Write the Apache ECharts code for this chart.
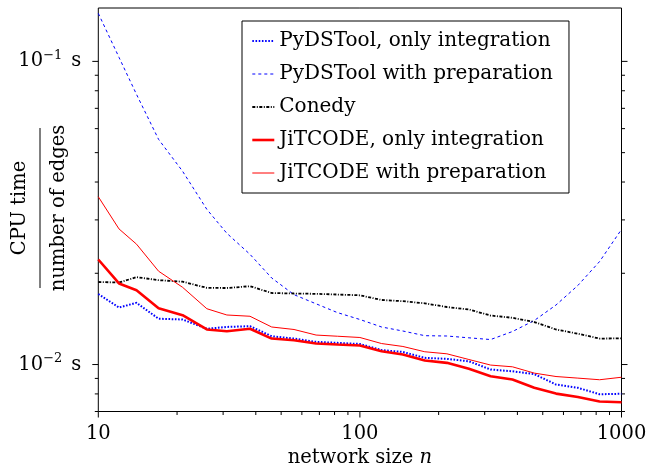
<!DOCTYPE html>
<html>
<head>
<meta charset="utf-8">
<script src="https://cdn.jsdelivr.net/npm/echarts@6/dist/echarts.min.js"></script>
<style>html,body{margin:0;padding:0;background:#fff;}#c{width:657px;height:468px;}</style>
</head>
<body>
<div id="c"></div>
<script>
// network sizes n
const networkSize = [10,12,14,17,21,26,31,38,46,56,68,82,100,121,146,177,215,261,316,383,464,562,681,825,1000];
// CPU time / number of edges (s)
const pydsOnly = [0.01709,0.01542,0.01598,0.01416,0.01408,0.01312,0.01331,0.01338,0.0124,0.01218,0.01188,0.01179,0.01169,0.01116,0.0110,0.01052,0.01044,0.01025,0.00963,0.0095,0.0093,0.00859,0.00838,0.00798,0.00801];
const pydsPrep = [0.144,0.1031,0.0778,0.0553,0.0434,0.0325,0.0271,0.0231,0.0193,0.0170,0.01586,0.01484,0.01408,0.0133,0.0129,0.01245,0.01242,0.01225,0.01209,0.01285,0.01397,0.01572,0.01823,0.02188,0.02791];
const conedy = [0.01872,0.01865,0.01942,0.01898,0.01876,0.01791,0.01788,0.01813,0.01722,0.01715,0.01711,0.01702,0.01692,0.01633,0.01618,0.01592,0.01548,0.01519,0.01451,0.01426,0.01381,0.01305,0.01264,0.01218,0.0122];
const jitOnly = [0.02221,0.01851,0.01759,0.01534,0.01455,0.01305,0.01288,0.01312,0.01218,0.01203,0.01173,0.01164,0.01155,0.01106,0.01079,0.01031,0.01013,0.00968,0.00915,0.00892,0.00838,0.00802,0.00782,0.00755,0.00751];
const jitPrep = [0.03577,0.02801,0.02495,0.02032,0.01798,0.01528,0.01457,0.01443,0.0133,0.01305,0.01251,0.0124,0.01228,0.01173,0.01147,0.01102,0.01085,0.01039,0.00996,0.00983,0.00937,0.00913,0.00902,0.00891,0.00908];
const seriesNames = ['PyDSTool, only integration','PyDSTool with preparation','Conedy','JiTCODE, only integration','JiTCODE with preparation'];
// axis ticks
const xMajorTicks = [10,100,1000];
const xMinorTicks = [20,30,40,50,60,70,80,90,200,300,400,500,600,700,800,900];
const yMajorTicks = [0.01,0.1];
const yMinorTicks = [0.007,0.008,0.009,0.02,0.03,0.04,0.05,0.06,0.07,0.08,0.09];
const xMin = 10, xMax = 1000, yMin = 0.007, yMax = 0.15;

const FONT = 'DejaVu Serif';
const lineStyles = [
  {color:'#0000ff', width:2, type:[1.6,1.6]},
  {color:'#0000ff', width:1, type:[3,3]},
  {color:'#000000', width:1.8, type:[3,1.5,1,1.5]},
  {color:'#ff0000', width:2.6, type:'solid'},
  {color:'#ff0000', width:1, type:'solid'}
];
const seriesData = [pydsOnly, pydsPrep, conedy, jitOnly, jitPrep];

const chart = echarts.init(document.getElementById('c'), null, {renderer:'canvas'});

function pairs(arr){ return networkSize.map((n,i)=>[n, arr[i]]); }

function tickSeries(values, where, len){
  return {
    type:'custom', silent:true, clip:false, z:10,
    data: values.map(v => where === 'bottom' ? [v, yMin] : (where === 'left' ? [xMin, v] : [xMax, v])),
    renderItem: function(params, api){
      const p = api.coord([api.value(0), api.value(1)]);
      let shape;
      if (where === 'bottom') shape = {x1:p[0], y1:p[1], x2:p[0], y2:p[1]+len};
      else if (where === 'left') shape = {x1:p[0]-len, y1:p[1], x2:p[0], y2:p[1]};
      else shape = {x1:p[0], y1:p[1], x2:p[0]+len, y2:p[1]};
      return {type:'line', shape:shape, style:{stroke:'#000', lineWidth:1}};
    }
  };
}

function isPow10(v){ const e = Math.round(Math.log10(v)); return Math.abs(v - Math.pow(10,e)) / Math.pow(10,e) < 1e-6; }

const lineSeries = seriesNames.map((name, i) => ({
  name: name, type:'line', data: pairs(seriesData[i]), symbol:'none', z:3,
  lineStyle: Object.assign({}, lineStyles[i]), itemStyle:{color: lineStyles[i].color}
}));

const option = {
  animation:false,
  backgroundColor:'#fff',
  grid:{left:98.3, right:35.5, top:8, bottom:56.5, show:true, borderColor:'#000', borderWidth:1, outerBoundsMode:'none', containLabel:false},
  xAxis:{
    type:'log', logBase:10, min:xMin, max:xMax,
    axisLine:{show:false}, axisTick:{show:false}, splitLine:{show:false},
    axisLabel:{margin:12, color:'#000', fontFamily:FONT, fontSize:19.5, hideOverlap:false,
      formatter: v => isPow10(v) ? String(Math.round(v)) : ''},
    name:'{a|network size }{i|n}', nameLocation:'middle', nameGap:31,
    nameTextStyle:{rich:{a:{fontFamily:FONT, fontSize:19.5, color:'#000'}, i:{fontFamily:FONT, fontStyle:'italic', fontSize:19.5, color:'#000'}}}
  },
  yAxis:{
    type:'log', logBase:10, min:yMin, max:yMax,
    axisLine:{show:false}, axisTick:{show:false}, splitLine:{show:false},
    axisLabel:{margin:17, color:'#000', hideOverlap:false,
      formatter: v => {
        if (!isPow10(v)) return '';
        const e = Math.round(Math.log10(v));
        return '{b|10}{e|\u2212' + (-e) + '}{s|s}';
      },
      rich:{
        b:{fontFamily:FONT, fontSize:19.5, color:'#000'},
        e:{fontFamily:FONT, fontSize:13, color:'#000', padding:[0,0,12,0]},
        s:{fontFamily:FONT, fontSize:19.5, color:'#000', padding:[0,0,0,9]}
      }
    }
  },
  legend:{
    data: seriesNames.map((name, i) => ({
      name: name,
      itemStyle:{opacity:0},
      lineStyle:{color: lineStyles[i].color, width: lineStyles[i].width, type: lineStyles[i].type, opacity:1}
    })),
    orient:'vertical', left:242, top:21,
    backgroundColor:'#fff', borderColor:'#000', borderWidth:1, borderRadius:0,
    padding:[10,16,10,9], itemGap:13, itemWidth:22, itemHeight:14, itemTextGap:9,
    itemStyle:{opacity:0},
    textStyle:{fontFamily:FONT, fontSize:20, color:'#000'},
    selectedMode:false
  },
  series: lineSeries.concat([
    tickSeries(xMajorTicks,'bottom',6),
    tickSeries(xMinorTicks,'bottom',3.5),
    tickSeries(yMajorTicks,'left',6),
    tickSeries(yMinorTicks,'left',3.5),
    tickSeries(yMajorTicks,'right',6),
    tickSeries(yMinorTicks,'right',3.5)
  ]),
  graphic:[
    {type:'text', x:20, y:208, rotation:Math.PI/2,
      style:{text:'CPU time', fontFamily:FONT, fontSize:19.5, fill:'#000', align:'center', verticalAlign:'middle'}},
    {type:'line', shape:{x1:40, y1:128, x2:40, y2:288}, style:{stroke:'#000', lineWidth:1}},
    {type:'text', x:59, y:208, rotation:Math.PI/2,
      style:{text:'number of edges', fontFamily:FONT, fontSize:19.5, fill:'#000', align:'center', verticalAlign:'middle'}}
  ]
};
chart.setOption(option);
</script>
</body>
</html>
